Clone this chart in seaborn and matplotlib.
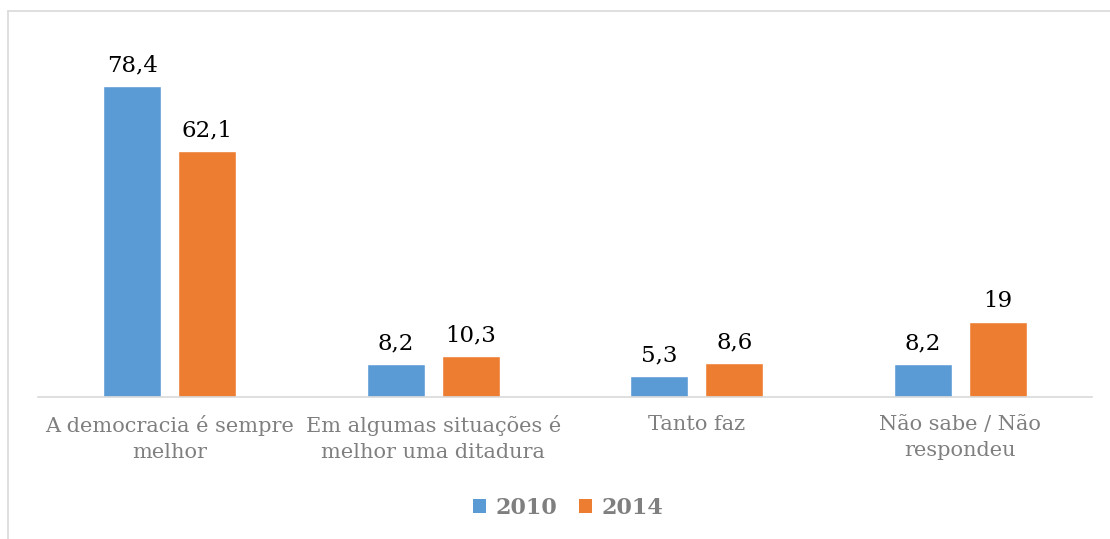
import matplotlib
matplotlib.use("Agg")
import matplotlib.pyplot as plt
import seaborn as sns
import pandas as pd
from matplotlib.lines import Line2D
from matplotlib.patches import Patch

categories = ["A democracia é sempre\nmelhor",
              "Em algumas situações é\nmelhor uma ditadura",
              "Tanto faz",
              "Não sabe / Não\nrespondeu"]
years = ["2010", "2014"]
values_2010 = [78.4, 8.2, 5.3, 8.2]
values_2014 = [62.1, 10.3, 8.6, 19]
colors = ["#5B9BD5", "#ED7D31"]

df = pd.DataFrame({
    "cat": categories * 2,
    "year": [years[0]] * 4 + [years[1]] * 4,
    "val": values_2010 + values_2014,
})

sns.set_theme(style="white")
plt.rcParams['font.family'] = ['DejaVu Serif']

W, H = 1110, 539
fig = plt.figure(figsize=(W / 100, H / 100), dpi=100)
ax = fig.add_axes([38 / W, 1 - 397 / H, (1092 - 38) / W, (397 - 40) / H])

sns.barplot(data=df, x="cat", y="val", hue="year", palette=colors,
            width=0.57, gap=0.228, ax=ax, legend=False, saturation=1)

ax.set_xlim(-0.5, 3.5)
ax.set_ylim(0, 90)
ax.set_xlabel("")
ax.set_ylabel("")
ax.set_yticks([])
for s in ["top", "right", "left"]:
    ax.spines[s].set_visible(False)
ax.spines["bottom"].set_color("#D9D9D9")
ax.spines["bottom"].set_linewidth(1.2)
ax.tick_params(axis="x", length=0, pad=13, labelsize=15, labelcolor="#7F7F7F")
for lab in ax.get_xticklabels():
    lab.set_linespacing(1.45)

for cont in ax.containers:
    labels = [f"{v:g}".replace(".", ",") for v in cont.datavalues]
    ax.bar_label(cont, labels=labels, padding=7, fontsize=16.5, color="#000000")

# legend
handles = [Patch(facecolor=c, edgecolor="none") for c in colors]
leg = fig.legend(handles, years, loc="center", bbox_to_anchor=(568 / W, 1 - 508 / H),
                 ncol=2, frameon=False, handlelength=0.6, handleheight=0.6,
                 handletextpad=0.4, columnspacing=1.0,
                 prop={"size": 16, "weight": "bold"})
for t in leg.get_texts():
    t.set_color("#7F7F7F")

# border lines
fig.add_artist(Line2D([8 / W, 8 / W], [0, 1 - 11 / H], transform=fig.transFigure,
                      color="#D9D9D9", lw=1.2))
fig.add_artist(Line2D([8 / W, 1], [1 - 11 / H, 1 - 11 / H], transform=fig.transFigure,
                      color="#D9D9D9", lw=1.2))

fig.savefig("out.png", dpi=100)
